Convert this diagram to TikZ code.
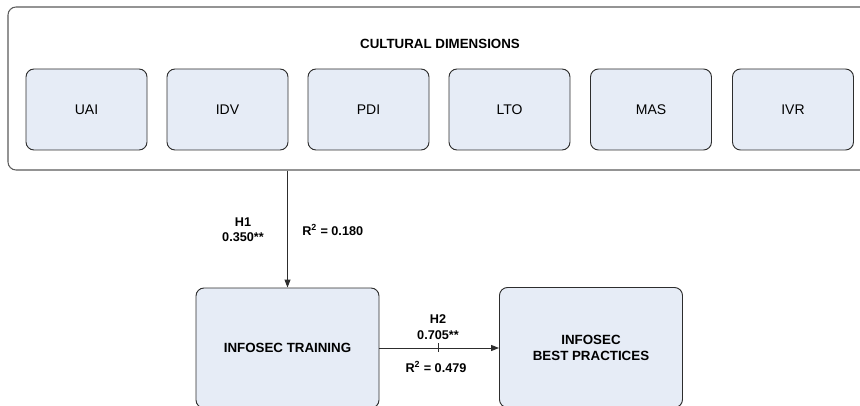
\documentclass[tikz,border=0pt]{standalone}
\usepackage{fontspec}
\setmainfont{Liberation Sans}
\usepackage{tikz}
\usetikzlibrary{arrows.meta,positioning,calc}
\definecolor{boxfill}{RGB}{230,236,246}
\definecolor{boxline}{RGB}{45,45,45}
\definecolor{outline}{RGB}{90,90,90}
\tikzset{
    % Define standard arrow tip
    >={Triangle[length=6pt,width=4.5pt]},
    % outer frame
    frame/.style={
           draw=outline,
           line width=0.8pt,
           rounded corners=6pt,
           minimum width=650.25pt,
           minimum height=122.25pt,
           inner sep=0pt,
           },
    % small dimension boxes
    dim/.style={
           draw=boxline,
           fill=boxfill,
           line width=0.7pt,
           rounded corners=6pt,
           minimum width=90.75pt,
           minimum height=60.75pt,
           inner sep=0pt,
           font=\fontsize{10.5}{12}\selectfont,
           },
    % large construct boxes
    construct/.style={
           draw=boxline,
           fill=boxfill,
           line width=0.7pt,
           rounded corners=6pt,
           minimum width=137.25pt,
           minimum height=90pt,
           inner sep=0pt,
           align=center,
           font=\fontsize{10}{12}\selectfont\bfseries,
           },
    lab/.style={
           align=center,
           inner sep=0pt,
           font=\fontsize{9.5}{11.5}\selectfont\bfseries,
           },
    pil/.style={
           ->,
           boxline,
           line width=0.7pt,
           },
}

\begin{document}
\begin{tikzpicture}[x=0.75pt,y=-0.75pt]
	\useasboundingbox (0,0) rectangle (860,406);
	\clip (0,0) rectangle (860,406);
	\node[frame] (dims) at (441.5,88.5) {};
	\node[lab,font=\fontsize{10}{12}\selectfont\bfseries] (title) at (440,44) {CULTURAL DIMENSIONS};
	\node[dim] (uai) at (86.5,109.5) {UAI};
	\node[dim] (idv) at (227.5,109.5) {IDV};
	\node[dim] (pdi) at (368.5,109.5) {PDI};
	\node[dim] (lto) at (509.5,109.5) {LTO};
	\node[dim] (mas) at (651,109.5) {MAS};
	\node[dim] (ivr) at (793,109.5) {IVR};
	\node[construct] (train) at (287.5,348) {INFOSEC TRAINING};
	\node[construct] (best) at (591,347.5) {INFOSEC\\BEST PRACTICES};
	\coordinate (top) at (train.north |- dims.south);
	\draw [pil] (top) -- (train.north);
	\draw [pil] (train.east) -- coordinate[pos=0.49] (tick) (best.west |- train.east);
	\draw [boxline,line width=0.7pt] ($(tick)+(0,-5)$) -- ($(tick)+(0,4)$);
	\node[lab] (h1) at (243,230) {H1\\0.350**};
	\node[lab,anchor=west] (r1) at (302,230) {R\textsuperscript{2} = 0.180};
	\node[lab] (h2) at (438,327) {H2\\0.705**};
	\node[lab] (r2) at (436,367) {R\textsuperscript{2} = 0.479};
\end{tikzpicture}
\end{document}
